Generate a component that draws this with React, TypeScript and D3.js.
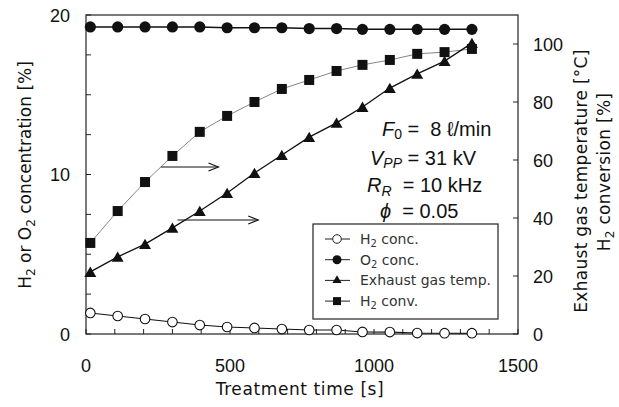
import React, { useEffect, useRef } from 'react';
import * as d3 from 'd3';

// treatment time [s]
const times = [15, 110, 205, 300, 395, 490, 585, 680, 775, 870, 960, 1055, 1150, 1245, 1340];
// left axis [%]
const h2Conc = [1.32, 1.13, 0.94, 0.75, 0.56, 0.44, 0.38, 0.31, 0.25, 0.25, 0.13, 0.12, 0.06, 0.05, 0.05];
const o2Conc = [19.25, 19.25, 19.25, 19.25, 19.25, 19.2, 19.2, 19.2, 19.15, 19.15, 19.1, 19.1, 19.1, 19.1, 19.1];
// right axis
const gasTemp = [21.4, 26.6, 31, 36.6, 42.4, 48.6, 55.5, 61.7, 67.9, 72.8, 78.3, 84.8, 89.7, 94.1, 100.3];
const h2Conv = [31.4, 42.4, 52.4, 61.4, 69.7, 75.2, 80.0, 84.5, 87.6, 90.7, 92.8, 94.5, 96.6, 97.2, 98.3];

const xTicks = [0, 500, 1000, 1500];
const leftTicks = [0, 10, 20];
const rightTicks = [0, 20, 40, 60, 80, 100];

const legendItems = [
  { name: 'H', sub: '2', rest: ' conc.', kind: 'open' },
  { name: 'O', sub: '2', rest: ' conc.', kind: 'circle' },
  { name: 'Exhaust gas temp.', sub: '', rest: '', kind: 'triangle' },
  { name: 'H', sub: '2', rest: ' conv.', kind: 'square' },
];

const W = 619;
const H = 407;
const NB = '\u00a0';

function Chart() {
  const ref = useRef<SVGSVGElement>(null);

  useEffect(() => {
    document.body.style.margin = '0';
    const svg = d3.select(ref.current);
    svg.selectAll('*').remove();

    const left = 86, right = 518, top = 15, bottom = 334;
    const x = d3.scaleLinear().domain([0, 1500]).range([left, right]);
    const yL = d3.scaleLinear().domain([0, 20]).range([bottom, top]);
    const yR = d3.scaleLinear().domain([0, 110]).range([bottom, top]);

    const axisColor = '#222';
    const tickFont = '"Liberation Sans", Arial, sans-serif';
    const titleFont = '"DejaVu Sans", sans-serif';

    svg.append('rect').attr('width', W).attr('height', H).attr('fill', '#fff');

    // frame
    svg.append('rect')
      .attr('x', left).attr('y', top)
      .attr('width', right - left).attr('height', bottom - top)
      .attr('fill', 'none').attr('stroke', axisColor).attr('stroke-width', 1.2);

    // ticks, all pointing inward
    const g = svg.append('g').attr('stroke', axisColor).attr('stroke-width', 1);
    d3.range(0, 1501, 100).forEach(v => {
      g.append('line').attr('x1', x(v)).attr('x2', x(v)).attr('y1', bottom).attr('y2', bottom - 5);
    });
    d3.range(0, 20.01, 2.5).forEach(v => {
      g.append('line').attr('x1', left).attr('x2', left + 5).attr('y1', yL(v)).attr('y2', yL(v));
    });
    rightTicks.forEach(v => {
      g.append('line').attr('x1', right).attr('x2', right - 5).attr('y1', yR(v)).attr('y2', yR(v));
    });

    // tick labels
    svg.append('g').selectAll('text').data(xTicks).enter().append('text')
      .attr('x', d => x(d)).attr('y', 372)
      .attr('text-anchor', 'middle')
      .style('font-family', tickFont).style('font-size', '18px').attr('fill', '#111')
      .text(d => d);
    svg.append('g').selectAll('text').data(leftTicks).enter().append('text')
      .attr('x', 70).attr('y', d => yL(d) + 6.5)
      .attr('text-anchor', 'end')
      .style('font-family', tickFont).style('font-size', '18px').attr('fill', '#111')
      .text(d => d);
    svg.append('g').selectAll('text').data(rightTicks).enter().append('text')
      .attr('x', 533).attr('y', d => yR(d) + 6.5)
      .attr('text-anchor', 'start')
      .style('font-family', tickFont).style('font-size', '18px').attr('fill', '#111')
      .text(d => d);

    // axis titles
    svg.append('text')
      .attr('x', 300).attr('y', 395).attr('text-anchor', 'middle')
      .style('font-family', titleFont).style('font-size', '17px').style('letter-spacing', '0.6px')
      .attr('fill', '#111')
      .text('Treatment time [s]');

    const leftTitle = svg.append('text')
      .attr('transform', 'translate(31,175) rotate(-90)')
      .attr('text-anchor', 'middle')
      .style('font-family', titleFont).style('font-size', '17px').attr('fill', '#111');
    leftTitle.append('tspan').text('H');
    leftTitle.append('tspan').text('2').style('font-size', '12px').attr('dy', 4);
    leftTitle.append('tspan').text(' or O').attr('dy', -4);
    leftTitle.append('tspan').text('2').style('font-size', '12px').attr('dy', 4);
    leftTitle.append('tspan').text(' concentration [%]').attr('dy', -4);

    svg.append('text')
      .attr('transform', 'translate(587,181) rotate(-90)')
      .attr('text-anchor', 'middle')
      .style('font-family', titleFont).style('font-size', '17px').style('letter-spacing', '0.3px')
      .attr('fill', '#111')
      .text('Exhaust gas temperature [°C]');
    const rt2 = svg.append('text')
      .attr('transform', 'translate(610,172) rotate(-90)')
      .attr('text-anchor', 'middle')
      .style('font-family', titleFont).style('font-size', '17px').style('letter-spacing', '0.3px')
      .attr('fill', '#111');
    rt2.append('tspan').text('H');
    rt2.append('tspan').text('2').style('font-size', '12px').attr('dy', 4);
    rt2.append('tspan').text(' conversion [%]').attr('dy', -4);

    // lines
    const line = (ys: number[], sc: d3.ScaleLinear<number, number>) =>
      d3.line<number>().x((_, i) => x(times[i])).y(d => sc(d))(ys);

    svg.append('path').attr('d', line(h2Conv, yR)).attr('fill', 'none').attr('stroke', '#777').attr('stroke-width', 0.9);
    svg.append('path').attr('d', line(gasTemp, yR)).attr('fill', 'none').attr('stroke', '#111').attr('stroke-width', 1.3);
    svg.append('path').attr('d', line(o2Conc, yL)).attr('fill', 'none').attr('stroke', '#111').attr('stroke-width', 1.5);
    svg.append('path').attr('d', line(h2Conc, yL)).attr('fill', 'none').attr('stroke', '#111').attr('stroke-width', 1.1);

    // markers
    const tri = d3.symbol().type(d3.symbolTriangle).size(62);
    svg.append('g').selectAll('path').data(gasTemp).enter().append('path')
      .attr('d', tri())
      .attr('transform', (d, i) => `translate(${x(times[i])},${yR(d) + 1.5})`)
      .attr('fill', '#111');
    svg.append('g').selectAll('rect').data(h2Conv).enter().append('rect')
      .attr('x', (d, i) => x(times[i]) - 5).attr('y', d => yR(d) - 5)
      .attr('width', 10).attr('height', 10)
      .attr('fill', '#111');
    svg.append('g').selectAll('circle').data(o2Conc).enter().append('circle')
      .attr('cx', (d, i) => x(times[i])).attr('cy', d => yL(d))
      .attr('r', 5.6).attr('fill', '#111');
    svg.append('g').selectAll('circle').data(h2Conc).enter().append('circle')
      .attr('cx', (d, i) => x(times[i])).attr('cy', d => yL(d))
      .attr('r', 4.8).attr('fill', '#fff').attr('stroke', '#111').attr('stroke-width', 1.1);

    // arrows toward right axis
    const arrows = [
      { t0: 260, t1: 460, v: 57.6 },
      { t0: 318, t1: 598, v: 39.3 },
    ];
    arrows.forEach(a => {
      const y = yR(a.v);
      const x1 = x(a.t1);
      svg.append('line').attr('x1', x(a.t0)).attr('x2', x1).attr('y1', y).attr('y2', y)
        .attr('stroke', '#111').attr('stroke-width', 1.1);
      svg.append('path').attr('d', `M${x1 - 10},${y - 4}L${x1},${y}L${x1 - 10},${y + 4}`)
        .attr('fill', 'none').attr('stroke', '#111').attr('stroke-width', 1.1);
    });

    // conditions text
    const condFont = '"Liberation Sans", Arial, sans-serif';
    const cond = svg.append('g').style('font-family', condFont).style('font-size', '20px').attr('fill', '#111');
    const c1 = cond.append('text').attr('x', 382).attr('y', 136);
    c1.append('tspan').text('F').style('font-style', 'italic');
    c1.append('tspan').text('0').style('font-size', '14px').attr('dy', 3);
    c1.append('tspan').text(`${NB}=${NB}${NB}8${NB}ℓ/min`).attr('dy', -3);
    const c2 = cond.append('text').attr('x', 370).attr('y', 165);
    c2.append('tspan').text('V').style('font-style', 'italic');
    c2.append('tspan').text('PP').style('font-style', 'italic').style('font-size', '14px').attr('dy', 3);
    c2.append('tspan').text(`${NB}=${NB}31${NB}kV`).attr('dy', -3);
    const c3 = cond.append('text').attr('x', 367).attr('y', 192);
    c3.append('tspan').text('R').style('font-style', 'italic');
    c3.append('tspan').text('R').style('font-style', 'italic').style('font-size', '14px').attr('dy', 4);
    c3.append('tspan').text(`${NB}${NB}=${NB}10${NB}kHz`).attr('dy', -4);
    const c4 = cond.append('text').attr('x', 380).attr('y', 218);
    c4.append('tspan').text('ϕ').style('font-style', 'italic');
    c4.append('tspan').text(`${NB}${NB}=${NB}0.05`);

    // legend
    const lg = svg.append('g');
    lg.append('rect').attr('x', 313).attr('y', 224).attr('width', 185).attr('height', 95)
      .attr('fill', '#fff').attr('stroke', '#222').attr('stroke-width', 1.2);
    legendItems.forEach((it, i) => {
      const y = 239 + i * 20.7;
      lg.append('line').attr('x1', 325).attr('x2', 350).attr('y1', y).attr('y2', y)
        .attr('stroke', '#222').attr('stroke-width', 1);
      if (it.kind === 'open') {
        lg.append('circle').attr('cx', 337).attr('cy', y).attr('r', 4.3)
          .attr('fill', '#fff').attr('stroke', '#222').attr('stroke-width', 1);
      } else if (it.kind === 'circle') {
        lg.append('circle').attr('cx', 337).attr('cy', y).attr('r', 4.5).attr('fill', '#111');
      } else if (it.kind === 'triangle') {
        lg.append('path').attr('d', d3.symbol().type(d3.symbolTriangle).size(36)())
          .attr('transform', `translate(337,${y})`).attr('fill', '#111');
      } else {
        lg.append('rect').attr('x', 333).attr('y', y - 4).attr('width', 8).attr('height', 8).attr('fill', '#111');
      }
      const t = lg.append('text').attr('x', 360).attr('y', y + 5)
        .style('font-family', titleFont).style('font-size', '14px').attr('fill', '#333');
      t.append('tspan').text(it.name);
      if (it.sub) {
        t.append('tspan').text(it.sub).style('font-size', '10px').attr('dy', 3);
        t.append('tspan').text(it.rest).attr('dy', -3);
      }
    });
  }, []);

  return <svg ref={ref} width={W} height={H} style={{ display: 'block' }} />;
}

export default function App() {
  return <Chart />;
}
